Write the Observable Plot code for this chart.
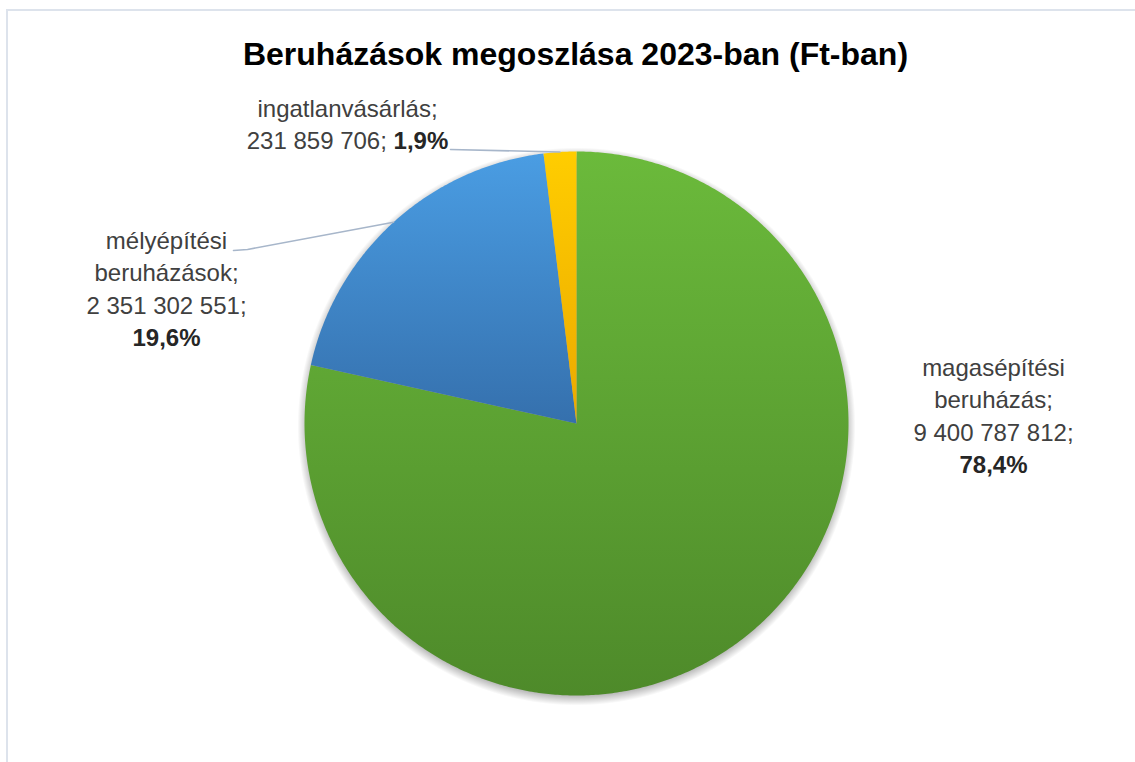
<!DOCTYPE html>
<html><head><meta charset="utf-8">
<script src="https://cdn.jsdelivr.net/npm/d3@7"></script>
<script src="https://cdn.jsdelivr.net/npm/@observablehq/plot@0.6"></script>
<style>
html,body{margin:0;padding:0;background:#fff;}
body{width:1135px;height:762px;overflow:hidden;position:relative;font-family:"Liberation Sans",Arial,sans-serif;}
#frame{position:absolute;left:6px;top:9px;width:1300px;height:900px;border:2px solid #dde3ec;box-sizing:border-box;}
#title{position:absolute;left:0;top:38px;width:1151px;text-align:center;font-size:32px;font-weight:bold;line-height:32px;color:#000;white-space:nowrap;}
#chart{position:absolute;left:0;top:80px;}
</style></head><body>
<div id="frame"></div>
<div id="title">Beruházások megoszlása 2023-ban (Ft-ban)</div>
<div id="chart"></div>
<script>
// ---- data ----
const categories = ["magasépítési beruházás", "mélyépítési beruházások", "ingatlanvásárlás"];
const values = [9400787812, 2351302551, 231859706];
const colorsTop = ["#6bba3b", "#4a9de3", "#ffcd00"];
const colorsBottom = ["#4e8a2a", "#3570ad", "#eba900"];

// ---- layout (px, relative to pie centre) ----
const R = 272, W = 1135, H = 682, CX = 576, CY = 343;
const labelLayout = [
  {dx: 417, dy: 17, wrap: true},
  {dx: -410, dy: -110, wrap: true},
  {dx: -229, dy: -274.5, wrap: false}
];
const leaderLayout = [null, [[-343, -173], [-329, -174]], [[-126, -274]]];
const lineH = 32.5, FS = 24, FONT = "Liberation Sans";

const xDomain = [-CX / R, (W - CX) / R];
const yDomain = [-(H - CY) / R, CY / R];
const u = (dx, dy) => ({x: dx / R, y: -dy / R});

const loc = d3.formatLocale({decimal: ",", thousands: " ", grouping: [3], currency: ["", ""]});
const fmtVal = loc.format(",d");
const fmtPct = loc.format(".1%");
const total = d3.sum(values);

const arcs = d3.pie().sort(null).value(d => d)(values);
const polar = (a, r = 1) => ({x: r * Math.sin(a), y: r * Math.cos(a)});

const slicePts = arcs.map((a, i) => {
  const n = Math.max(2, Math.ceil((a.endAngle - a.startAngle) / (Math.PI / 360)));
  const pts = [{x: 0, y: 0}];
  for (let k = 0; k <= n; k++) pts.push(polar(a.startAngle + (a.endAngle - a.startAngle) * k / n));
  pts.push({x: 0, y: 0});
  return pts;
});

const shadowR = (R + 7) / R, shadowOff = 3 / R;
const shadowPts = d3.range(0, 721).map(k => {
  const p = polar(k / 720 * 2 * Math.PI, shadowR);
  return {x: p.x, y: p.y - shadowOff};
});

// leader lines
const leaderPts = [];
arcs.forEach((a, i) => {
  if (!leaderLayout[i]) return;
  leaderLayout[i].forEach(([dx, dy]) => leaderPts.push({...u(dx, dy), i}));
  leaderPts.push({...polar((a.startAngle + a.endAngle) / 2), i});
});

// text
const ctx = document.createElement("canvas").getContext("2d");
const measure = (s, bold) => { ctx.font = `${bold ? "bold " : ""}${FS}px "${FONT}"`; return ctx.measureText(s).width; };
const textMid = [], textEnd = [], boldMid = [], boldStart = [];
categories.forEach((c, i) => {
  const L = labelLayout[i];
  const v = fmtVal(values[i]) + ";";
  const p = fmtPct(values[i] / total);
  if (L.wrap) {
    const words = c.split(" ");
    const txt = words.slice(0, -1).join("\n") + "\n" + words[words.length - 1] + ";\n" + v;
    textMid.push({...u(L.dx, L.dy), text: txt});
    boldMid.push({...u(L.dx, L.dy + lineH), text: p});
  } else {
    textMid.push({...u(L.dx, L.dy - lineH), text: c + ";"});
    const w1 = measure(v, false), ws = measure(" ", false), w2 = measure(p, true);
    const left = L.dx - (w1 + ws + w2) / 2;
    textEnd.push({...u(left + w1, L.dy), text: v});
    boldStart.push({...u(left + w1 + ws, L.dy), text: p});
  }
});

const NS = "http://www.w3.org/2000/svg";
function defsMark() {
  const defs = document.createElementNS(NS, "defs");
  colorsTop.forEach((c, i) => {
    const g = document.createElementNS(NS, "linearGradient");
    g.setAttribute("id", "grad" + i);
    g.setAttribute("x1", "0"); g.setAttribute("y1", "0");
    g.setAttribute("x2", "0"); g.setAttribute("y2", "1");
    [[0, c], [1, colorsBottom[i]]].forEach(([o, col]) => {
      const s = document.createElementNS(NS, "stop");
      s.setAttribute("offset", o); s.setAttribute("stop-color", col);
      g.appendChild(s);
    });
    defs.appendChild(g);
  });
  const rg = document.createElementNS(NS, "radialGradient");
  rg.setAttribute("id", "pieShadow");
  [[0, 0.35], [0.955, 0.35], [1, 0]].forEach(([o, op]) => {
    const s = document.createElementNS(NS, "stop");
    s.setAttribute("offset", o); s.setAttribute("stop-color", "#000"); s.setAttribute("stop-opacity", op);
    rg.appendChild(s);
  });
  defs.appendChild(rg);
  return defs;
}

const textOpts = {x: "x", y: "y", text: "text", lineAnchor: "bottom", lineHeight: lineH / FS, fontSize: FS, fontFamily: FONT};

const chart = Plot.plot({
  width: W, height: H, margin: 0,
  x: {domain: xDomain, axis: null},
  y: {domain: yDomain, axis: null},
  style: {background: "transparent"},
  marks: [
    defsMark,
    Plot.line(shadowPts, {x: "x", y: "y", fill: "url(#pieShadow)", stroke: "none"}),
    ...slicePts.map((pts, i) => Plot.line(pts, {x: "x", y: "y", fill: `url(#grad${i})`, stroke: "none"})),
    Plot.line(leaderPts, {x: "x", y: "y", z: "i", stroke: "#a7b6ca", strokeWidth: 1.6}),
    Plot.text(textMid, {...textOpts, textAnchor: "middle", fill: "#404040"}),
    Plot.text(textEnd, {...textOpts, textAnchor: "end", fill: "#404040"}),
    Plot.text(boldMid, {...textOpts, textAnchor: "middle", fill: "#262626", fontWeight: "bold"}),
    Plot.text(boldStart, {...textOpts, textAnchor: "start", fill: "#262626", fontWeight: "bold"})
  ]
});
document.getElementById("chart").appendChild(chart);
</script>
</body></html>
